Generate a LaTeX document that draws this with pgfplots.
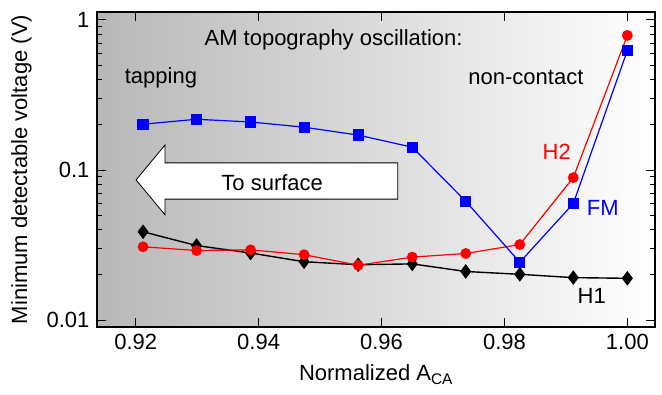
\documentclass[border=0pt]{standalone}
\usepackage{fontspec}
\setmainfont{Liberation Sans}
\usepackage{pgfplots}
\pgfplotsset{compat=1.18}
\begin{document}
\fontsize{22}{26}\selectfont
\begin{tikzpicture}
\begin{axis}[
 scale only axis, width=558pt, height=315pt,
 xmin=0.9137, xmax=1.0045,
 ymode=log, ymin=0.0090, ymax=1.13,
 log ticks with fixed point,
 xtick={0.92,0.94,0.96,0.98,1.00},
 xticklabel style={/pgf/number format/.cd, fixed, fixed zerofill, precision=2},
 /pgf/number format/assume math mode=true,
 tick align=inside,
 major tick length=9pt, minor tick length=5pt,
 every tick/.style={black, line width=1pt},
 axis line style={line width=1.6pt},
 xlabel={Normalized A\textsubscript{CA}},
 ylabel={Minimum detectable voltage (V)},
 axis background/.style={shade, left color=black!28, right color=white},
 clip=false,
]
\draw[fill=white, line width=0.8pt] (rel axis cs:0.070,0.467) -- (rel axis cs:0.122,0.578) -- (rel axis cs:0.122,0.521) -- (rel axis cs:0.539,0.521) -- (rel axis cs:0.539,0.406) -- (rel axis cs:0.122,0.406) -- (rel axis cs:0.122,0.356) -- cycle;
\node at (rel axis cs:0.314,0.457) {To surface};
\node at (axis cs:0.9522,0.741) {AM topography oscillation:};
\node at (axis cs:0.9241,0.412) {tapping};
\node at (axis cs:0.9835,0.412) {non-contact};
\node[red] at (axis cs:0.9885,0.133) {H2};
\node[blue] at (axis cs:0.9960,0.056) {FM};
\node at (axis cs:0.9942,0.0146) {H1};

\addplot[black, line width=1.4pt, mark=diamond*, mark size=6.2pt] coordinates {
(0.9212,0.0388) (0.9299,0.0314) (0.9387,0.0280) (0.9474,0.0245) (0.9562,0.0234)
(0.9650,0.0237) (0.9737,0.0211) (0.9825,0.0202) (0.9912,0.0192) (1.0000,0.0190)};
\addplot[red, line width=1.2pt, mark=*, mark size=4.8pt] coordinates {
(0.9212,0.0308) (0.9299,0.0291) (0.9387,0.0294) (0.9474,0.0273) (0.9562,0.0232)
(0.9650,0.0263) (0.9737,0.0278) (0.9825,0.0319) (0.9912,0.089) (1.0000,0.789)};
\addplot[blue, line width=1.2pt, mark=square*, mark size=5pt] coordinates {
(0.9212,0.202) (0.9299,0.218) (0.9387,0.209) (0.9474,0.193) (0.9562,0.171)
(0.9650,0.142) (0.9737,0.062) (0.9825,0.0243) (0.9912,0.0598) (1.0000,0.626)};
\end{axis}
\pgfresetboundingbox
\path[use as bounding box] ([shift={(-97pt,-67pt)}]current axis.south west) rectangle ([shift={(7pt,12pt)}]current axis.north east);
\end{tikzpicture}
\end{document}
